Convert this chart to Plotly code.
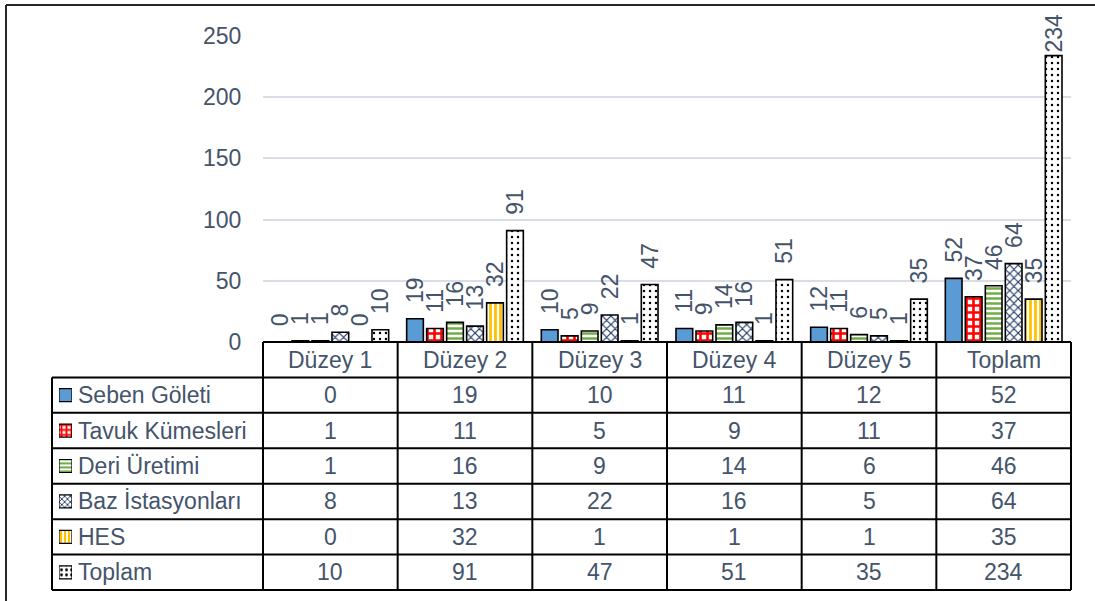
import plotly.graph_objects as go

# ---------------- data ----------------
categories = ["Düzey 1", "Düzey 2", "Düzey 3", "Düzey 4", "Düzey 5", "Toplam"]
series_names = ["Seben Göleti", "Tavuk Kümesleri", "Deri Üretimi",
                "Baz İstasyonları", "HES", "Toplam"]
seben = [0, 19, 10, 11, 12, 52]
tavuk = [1, 11, 5, 9, 11, 37]
deri = [1, 16, 9, 14, 6, 46]
baz = [8, 13, 22, 16, 5, 64]
hes = [0, 32, 1, 1, 1, 35]
toplam = [10, 91, 47, 51, 35, 234]
series_values = [seben, tavuk, deri, baz, hes, toplam]
y_ticks = [0, 50, 100, 150, 200, 250]

# ---------------- styles ----------------
W, H = 1095, 601
FONT = "Liberation Sans, Arial, sans-serif"
TXT = "#44546a"
FS = 23
fills = ["#5b9bd5", "#ffffff", "#ffffff", "#ffffff", "#ffffff", "#ffffff"]
pat_shapes = ["", "+", "-", "x", "|", "."]
pat_fg = ["#5b9bd5", "#ff0000", "#70ad47", "#1f3864", "#ffc000", "#000000"]
pat_size = [6, 7, 5, 6, 5, 6]
pat_sol = [0.3, 0.6, 0.5, 0.35, 0.55, 0.13]
key_size = [4, 5, 4, 4, 4, 5]
key_sol = [0.3, 0.6, 0.5, 0.4, 0.55, 0.25]

PL, PR, PT, PB = 263, 1071, 36, 342
TL = 52
TB = 590
NROWS = len(series_names) + 1
ROW_H = (TB - PB) / NROWS
KEY_W = 13 / ROW_H


def px(x):
    return x / W


def py(y):
    return 1 - y / H


fig = go.Figure()

for i, (name, vals) in enumerate(zip(series_names, series_values)):
    labels = [("\u00a0\u00a0" if v < 200 else "") + str(v) for v in vals]
    fig.add_trace(go.Bar(
        x=categories, y=vals, name=name,
        marker=dict(color=fills[i], line=dict(color="#000000", width=1.6),
                    pattern=dict(shape=pat_shapes[i], fgcolor=pat_fg[i],
                                 bgcolor=fills[i], size=pat_size[i],
                                 solidity=pat_sol[i], fillmode="overlay",
                                 fgopacity=1)),
        text=labels, textposition="outside", textangle=-90,
        constraintext="none", cliponaxis=False,
        textfont=dict(family=FONT, size=FS, color=TXT),
        showlegend=False, hoverinfo="skip",
    ))

# legend keys inside the table (one small bar per row)
for i, name in enumerate(series_names):
    fig.add_trace(go.Bar(
        x=[1], y=[name], orientation="h",
        xaxis="x2", yaxis="y2", width=KEY_W, offset=-KEY_W / 2, base=0,
        marker=dict(color=fills[i], line=dict(color="#000000", width=1.2),
                    pattern=dict(shape=pat_shapes[i], fgcolor=pat_fg[i],
                                 bgcolor=fills[i], size=key_size[i],
                                 solidity=key_sol[i], fillmode="overlay",
                                 fgopacity=1)),
        showlegend=False, hoverinfo="skip", textposition="none",
    ))

shapes = []
LC = "#000000"
LW = 2
# outer chart frame (cropped in reference)
shapes.append(dict(type="line", xref="paper", yref="paper", x0=px(6), x1=px(W + 5),
                   y0=py(5), y1=py(5), line=dict(color="#262626", width=2)))
shapes.append(dict(type="line", xref="paper", yref="paper", x0=px(6), x1=px(6),
                   y0=py(5), y1=py(H + 5), line=dict(color="#262626", width=2)))
# table horizontal lines
for r in range(NROWS + 1):
    yy = PB + r * ROW_H
    x0 = PL if r == 0 else TL
    shapes.append(dict(type="line", xref="paper", yref="paper", x0=px(x0), x1=px(PR),
                       y0=py(yy), y1=py(yy), line=dict(color=LC, width=LW)))
# table vertical lines
ncat = len(categories)
cw = (PR - PL) / ncat
for c in range(ncat + 1):
    xx = PL + c * cw
    shapes.append(dict(type="line", xref="paper", yref="paper", x0=px(xx), x1=px(xx),
                       y0=py(PB), y1=py(TB), line=dict(color=LC, width=LW)))
shapes.append(dict(type="line", xref="paper", yref="paper", x0=px(TL), x1=px(TL),
                   y0=py(PB + ROW_H), y1=py(TB), line=dict(color=LC, width=LW)))

annotations = []
# header row
for cat in categories:
    annotations.append(dict(x=cat, xref="x", y=py(PB + ROW_H / 2), yref="paper",
                            text=cat, showarrow=False, xanchor="center", yanchor="middle",
                            font=dict(family=FONT, size=FS, color=TXT)))
# body rows
for r, (name, vals) in enumerate(zip(series_names, series_values)):
    yc = py(PB + (r + 1.5) * ROW_H)
    annotations.append(dict(x=px(76), xref="paper", y=yc, yref="paper", text=name,
                            showarrow=False, xanchor="left", yanchor="middle",
                            font=dict(family=FONT, size=FS, color=TXT)))
    for cat, v in zip(categories, vals):
        annotations.append(dict(x=cat, xref="x", y=yc, yref="paper", text=str(v),
                                showarrow=False, xanchor="center", yanchor="middle",
                                font=dict(family=FONT, size=FS, color=TXT)))

fig.update_layout(
    template="none",
    width=W, height=H,
    margin=dict(l=0, r=0, t=0, b=0, pad=0, autoexpand=False),
    paper_bgcolor="#ffffff", plot_bgcolor="#ffffff",
    font=dict(family=FONT, size=FS, color=TXT),
    barmode="group", bargap=0.109, bargroupgap=0.165,
    showlegend=False,
    xaxis=dict(domain=[px(PL), px(PR)], type="category", categoryorder="array",
               categoryarray=categories, showticklabels=False, showgrid=False,
               zeroline=False, showline=False, ticks="", automargin=False),
    yaxis=dict(domain=[py(PB), py(PT)], range=[0, 250], tickvals=y_ticks,
               showgrid=True, gridcolor="#d9dde5", gridwidth=1.5, zeroline=False,
               showline=False, ticks="outside", ticklen=16, tickcolor="rgba(0,0,0,0)",
               tickfont=dict(family=FONT, size=FS, color=TXT), automargin=False),
    xaxis2=dict(domain=[px(59), px(72)], range=[0, 1], anchor="y2", visible=False,
                automargin=False),
    yaxis2=dict(domain=[py(TB), py(PB + ROW_H)], type="category",
                categoryorder="array", categoryarray=series_names,
                range=[len(series_names) - 0.5, -0.5], anchor="x2", visible=False,
                automargin=False),
    shapes=shapes,
    annotations=annotations,
)

fig.write_html("out.html")
